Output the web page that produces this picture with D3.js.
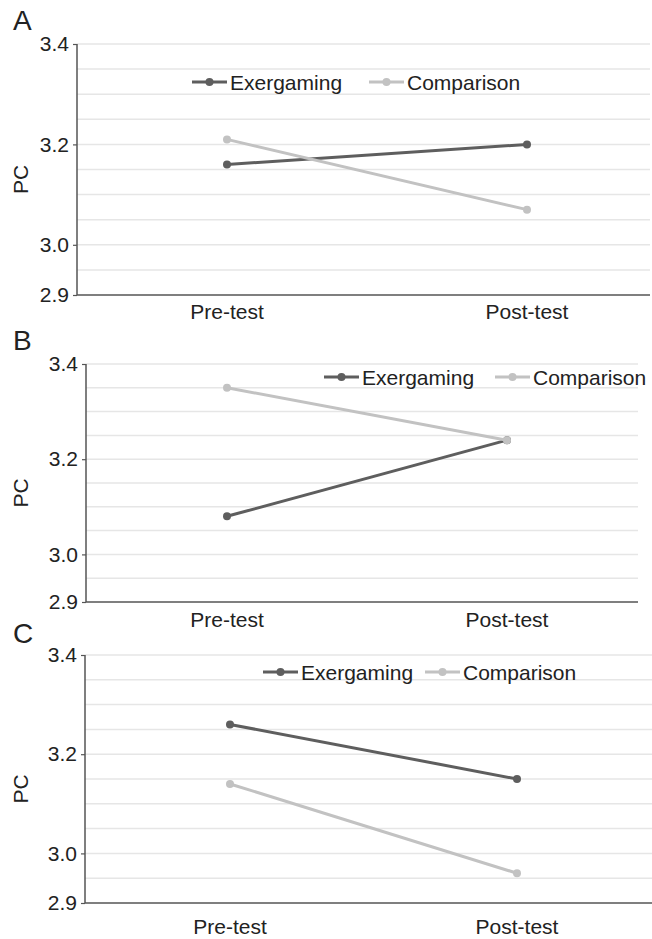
<!DOCTYPE html>
<html>
<head>
<meta charset="utf-8">
<script src="https://cdn.jsdelivr.net/npm/d3@7"></script>
<style>
  body { margin: 0; background: #fff; }
  text { font-family: "Liberation Sans", Arial, sans-serif; fill: #222; }
</style>
</head>
<body>
<svg id="chart" width="652" height="939"></svg>
<script>
// data
const categories = ["Pre-test", "Post-test"];
const seriesNames = ["Exergaming", "Comparison"];
const panelLabels = ["A", "B", "C"];
const exergamingA = [3.16, 3.20];
const comparisonA = [3.21, 3.07];
const exergamingB = [3.08, 3.24];
const comparisonB = [3.35, 3.24];
const exergamingC = [3.26, 3.15];
const comparisonC = [3.14, 2.96];
const yDomain = [2.9, 3.4];
const tickValues = [2.9, 3.0, 3.2, 3.4];
const gridStep = 0.05;
const yLabel = "PC";

var seriesColors = ["#5e5e5e", "#c2c2c2"];

// layout of each panel (pixel positions on the page)
var panels = [
  {label: panelLabels[0], series: [exergamingA, comparisonA],
   left: 77, right: 650, top: 44, bottom: 295, pts: [227, 527],
   labelY: 30, xLabY: 319, legY: 82, legX: [192, 369]},
  {label: panelLabels[1], series: [exergamingB, comparisonB],
   left: 86, right: 638, top: 364, bottom: 602, pts: [227, 507],
   labelY: 350, xLabY: 627, legY: 377, legX: [324, 495]},
  {label: panelLabels[2], series: [exergamingC, comparisonC],
   left: 85, right: 652, top: 655, bottom: 903, pts: [230, 517],
   labelY: 643, xLabY: 934, legY: 672, legX: [263, 425]}
];

var svg = d3.select("#chart");

var gridValues = d3.range(yDomain[0], yDomain[1] + gridStep / 2, gridStep);

panels.forEach(function(p) {
  var g = svg.append("g");

  var x = d3.scalePoint()
    .domain(categories)
    .range(p.pts)
    .padding(0);

  var y = d3.scaleLinear()
    .domain(yDomain)
    .range([p.bottom, p.top]);

  // gridlines
  g.append("g")
    .selectAll("line")
    .data(gridValues.slice(1))
    .enter().append("line")
    .attr("x1", p.left)
    .attr("x2", p.right)
    .attr("y1", d => y(d))
    .attr("y2", d => y(d))
    .attr("stroke", "#e6e6e6")
    .attr("stroke-width", 1.5);

  // y axis
  var yAxis = g.append("g")
    .attr("transform", "translate(" + p.left + ",0)")
    .call(d3.axisLeft(y)
      .tickValues(tickValues)
      .tickSize(4)
      .tickPadding(4)
      .tickFormat(d3.format(".1f")));
  yAxis.select(".domain").attr("stroke", "#555").attr("stroke-width", 1.5)
    .attr("d", "M0," + p.top + "V" + p.bottom);
  yAxis.selectAll(".tick line").attr("stroke", "#555").attr("stroke-width", 1.2);
  yAxis.selectAll(".tick text")
    .style("font-size", "21px")
    .style("font-family", "'Liberation Sans', Arial, sans-serif")
    .attr("fill", "#222");

  // x axis baseline
  g.append("line")
    .attr("x1", p.left)
    .attr("x2", p.right)
    .attr("y1", y(yDomain[0]))
    .attr("y2", y(yDomain[0]))
    .attr("stroke", "#555")
    .attr("stroke-width", 1.5);

  // category labels
  g.append("g")
    .selectAll("text")
    .data(categories)
    .enter().append("text")
    .attr("x", d => x(d))
    .attr("y", p.xLabY)
    .attr("text-anchor", "middle")
    .style("font-size", "21px")
    .text(d => d);

  // panel letter
  g.append("text")
    .attr("x", 13)
    .attr("y", p.labelY)
    .style("font-size", "28px")
    .text(p.label);

  // y label
  g.append("text")
    .attr("transform", "translate(28," + ((p.top + p.bottom) / 2 + 10) + ") rotate(-90)")
    .attr("text-anchor", "middle")
    .style("font-size", "21px")
    .text(yLabel);

  // lines
  var line = d3.line()
    .x((d, i) => x(categories[i]))
    .y(d => y(d));

  p.series.forEach(function(vals, si) {
    g.append("path")
      .datum(vals)
      .attr("d", line)
      .attr("fill", "none")
      .attr("stroke", seriesColors[si])
      .attr("stroke-width", 3);

    g.append("g")
      .selectAll("circle")
      .data(vals)
      .enter().append("circle")
      .attr("cx", (d, i) => x(categories[i]))
      .attr("cy", d => y(d))
      .attr("r", 4)
      .attr("fill", seriesColors[si]);
  });

  // legend
  seriesNames.forEach(function(name, si) {
    var lg = g.append("g")
      .attr("transform", "translate(" + p.legX[si] + "," + p.legY + ")");
    lg.append("line")
      .attr("x1", 0).attr("x2", 35)
      .attr("y1", 0).attr("y2", 0)
      .attr("stroke", seriesColors[si])
      .attr("stroke-width", 3);
    lg.append("circle")
      .attr("cx", 17.5).attr("cy", 0).attr("r", 4)
      .attr("fill", seriesColors[si]);
    lg.append("text")
      .attr("x", 38)
      .attr("y", 7.5)
      .style("font-size", "21px")
      .text(name);
  });
});
</script>
</body>
</html>
